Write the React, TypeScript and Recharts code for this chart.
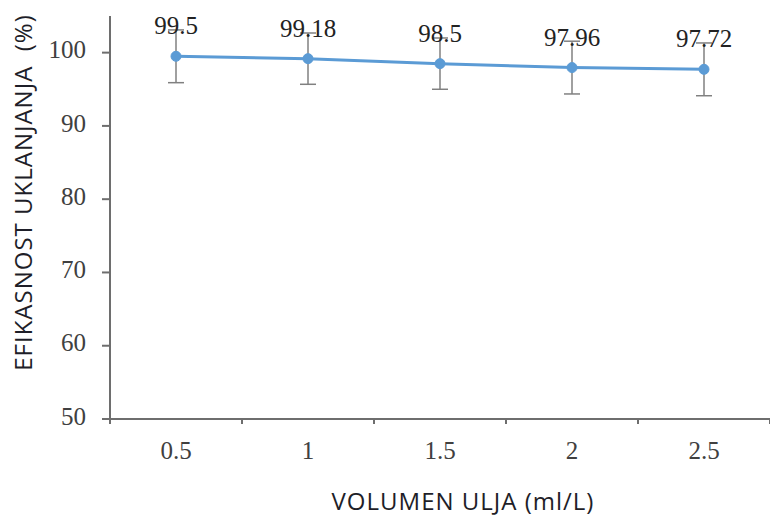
import React from 'react';
import { LineChart, Line, XAxis, YAxis, ErrorBar, LabelList, Label } from 'recharts';

// values
const volumes = [0.5, 1, 1.5, 2, 2.5];
const efficiency = [99.5, 99.18, 98.5, 97.96, 97.72];
const errors = [3.6, 3.5, 3.5, 3.6, 3.6];
const yTicks = [50, 60, 70, 80, 90, 100];
const xBoundaries = [0.25, 0.75, 1.25, 1.75, 2.25, 2.75];

const data = volumes.map((v, i) => ({ x: v, eff: efficiency[i], err: errors[i] }));

const AXIS_COLOR = '#6e6e6e';
const SERIF = '"Liberation Serif", "Times New Roman", serif';
const SANS = '"Open Sans", Lato, sans-serif';

const XTick = (props: any) => {
  const { x, y, payload } = props;
  if (volumes.includes(payload.value)) {
    return (
      <text x={x} y={y + 34} textAnchor="middle" dominantBaseline="middle"
        style={{ fontFamily: SERIF, fontSize: 25, fill: '#404040' }}>
        {payload.value}
      </text>
    );
  }
  return <line x1={x} x2={x} y1={y} y2={y + 5} stroke={AXIS_COLOR} strokeWidth={2} />;
};

const YTick = (props: any) => {
  const { x, y, payload } = props;
  return (
    <text x={x - 16} y={y} textAnchor="end" dominantBaseline="middle"
      style={{ fontFamily: SERIF, fontSize: 25, fill: '#404040' }}>
      {payload.value}
    </text>
  );
};

const XTitle = (props: any) => {
  const vb = props.viewBox;
  return (
    <text x={vb.x + vb.width / 2 + 23} y={vb.y + 85} textAnchor="middle" dominantBaseline="middle"
      style={{ fontFamily: SANS, fontSize: 24, fill: '#1e1e28', letterSpacing: 1 }}>
      VOLUMEN ULJA (ml/L)
    </text>
  );
};

const YTitle = (props: any) => {
  const vb = props.viewBox;
  const cx = 26;
  const cy = vb.y + vb.height / 2 - 25;
  return (
    <text x={cx} y={cy} textAnchor="middle" dominantBaseline="middle"
      transform={`rotate(-90 ${cx} ${cy})`}
      style={{ fontFamily: SANS, fontSize: 24, fill: '#1e1e28', whiteSpace: 'pre', letterSpacing: 1 }}>
      EFIKASNOST UKLANJANJA  (%)
    </text>
  );
};

export default function App() {
  return (
    <div style={{ position: 'absolute', left: 0, top: 0, background: '#fff' }}>
      <LineChart width={770} height={519} data={data}
        margin={{ top: 16, right: 0, bottom: 0, left: 50 }}>
        <XAxis
          dataKey="x"
          type="number"
          domain={[0.25, 2.75]}
          ticks={[...xBoundaries, ...volumes].sort((a, b) => a - b)}
          interval={0}
          height={100}
          tickSize={0}
          tickMargin={0}
          tickLine={false}
          tick={<XTick />}
          axisLine={{ stroke: AXIS_COLOR, strokeWidth: 2 }}
        >
          <Label content={<XTitle />} />
        </XAxis>
        <YAxis
          type="number"
          domain={[50, 105]}
          ticks={yTicks}
          interval={0}
          width={60}
          tickSize={8}
          tickMargin={0}
          tickLine={{ stroke: AXIS_COLOR, strokeWidth: 2 }}
          axisLine={{ stroke: AXIS_COLOR, strokeWidth: 2 }}
          tick={<YTick />}
        >
          <Label content={<YTitle />} />
        </YAxis>
        <Line
          dataKey="eff"
          stroke="#5b9bd5"
          strokeWidth={3}
          dot={{ r: 5, fill: '#5b9bd5', stroke: '#5b9bd5', strokeWidth: 1 }}
          isAnimationActive={false}
        >
          <ErrorBar dataKey="err" direction="y" width={8} stroke="#808080" strokeWidth={1.5} />
          <LabelList dataKey="eff" position="top" offset={22}
            style={{ fontFamily: SERIF, fontSize: 25, fill: '#222' }} />
        </Line>
      </LineChart>
    </div>
  );
}
